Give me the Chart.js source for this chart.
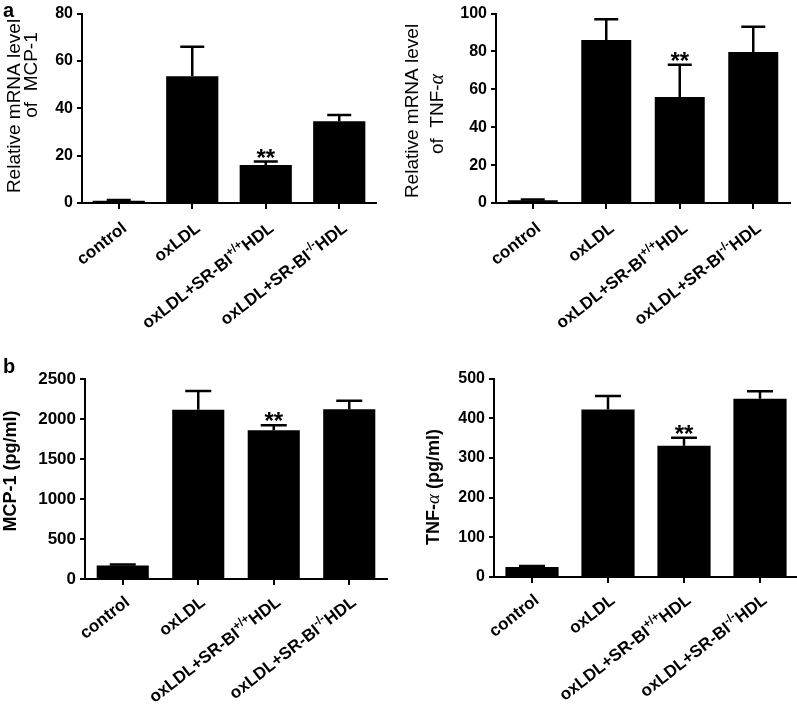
<!DOCTYPE html>
<html><head><meta charset="utf-8">
<script src="https://cdn.jsdelivr.net/npm/chart.js@4"></script>
<style>
html,body{margin:0;padding:0;background:#fff;overflow:hidden;width:797px;height:710px;}
#wrap{position:relative;width:797px;height:710px;overflow:hidden;background:#fff;}
canvas{position:absolute;}
.plabel{position:absolute;font:bold 20px "Liberation Sans",Arial,sans-serif;line-height:20px;color:#000;}
</style></head><body>
<div id="wrap">
<canvas id="c1" width="400" height="365" style="left:0;top:0"></canvas>
<canvas id="c2" width="397" height="365" style="left:400px;top:0"></canvas>
<canvas id="c3" width="400" height="345" style="left:0;top:365px"></canvas>
<canvas id="c4" width="400" height="345" style="left:400px;top:365px"></canvas>
<div class="plabel" style="left:3px;top:0px">a</div>
<div class="plabel" style="left:3px;top:356px">b</div>
</div>
<script>
// ---- data ----
const categories = ['control', 'oxLDL', 'oxLDL+SR-BI^{+/+}HDL', 'oxLDL+SR-BI^{-/-}HDL'];
const significance = ['', '', '**', ''];

const mcp1Mrna = [1, 53.5, 16, 34.5];
const mcp1MrnaErr = [0.3, 12.5, 1.5, 2.7];
const mcp1MrnaTicks = [0, 20, 40, 60, 80];
const mcp1MrnaTitle = ['Relative mRNA level', 'of  MCP-1'];

const tnfMrna = [1.5, 86, 56, 79.7];
const tnfMrnaErr = [0.3, 11, 17, 13.3];
const tnfMrnaTicks = [0, 20, 40, 60, 80, 100];
const tnfMrnaTitle = ['Relative mRNA level', 'of  TNF-α'];

const mcp1Protein = [170, 2118, 1861, 2125];
const mcp1ProteinErr = [10, 235, 62, 105];
const mcp1ProteinTicks = [0, 500, 1000, 1500, 2000, 2500];
const mcp1ProteinTitle = ['MCP-1 (pg/ml)'];

const tnfProtein = [25, 422, 331, 449];
const tnfProteinErr = [3, 34, 20, 19];
const tnfProteinTicks = [0, 100, 200, 300, 400, 500];
const tnfProteinTitle = ['TNF-α (pg/ml)'];

// ---- helpers ----
const FAM = '"Liberation Sans", Arial, Helvetica, sans-serif';
const GREEK = '"Liberation Serif", "DejaVu Serif", serif';

function parseRuns(text) {
  const runs = [];
  const re = /\^\{([^}]*)\}|α|[^\^α]+/g;
  let m;
  while ((m = re.exec(text)) !== null) {
    if (m[1] !== undefined) runs.push({t: m[1], sup: true});
    else if (m[0] === 'α') runs.push({t: 'α', greek: true});
    else runs.push({t: m[0]});
  }
  return runs;
}
function plain(text) { return text.replace(/\^\{([^}]*)\}/g, '$1'); }

function runFont(r, size, weight) {
  if (r.sup) return weight + ' ' + Math.round(size * 0.68) + 'px ' + FAM;
  if (r.greek) return 'italic ' + (size + 1) + 'px ' + GREEK;
  return weight + ' ' + size + 'px ' + FAM;
}
function drawRich(ctx, text, size, weight, align) {
  const runs = parseRuns(text);
  let total = 0;
  runs.forEach(r => { ctx.font = runFont(r, size, weight); r.w = ctx.measureText(r.t).width; total += r.w; });
  let x = align === 'right' ? -total : -total / 2;
  ctx.textAlign = 'left';
  ctx.textBaseline = 'alphabetic';
  runs.forEach(r => {
    ctx.font = runFont(r, size, weight);
    ctx.fillText(r.t, x, r.sup ? -Math.round(size * 0.42) : 0);
    x += r.w;
  });
}

function decor(cfg) {
  return {
    id: 'decor_' + cfg.id,
    afterDatasetsDraw(chart) {
      const ctx = chart.ctx;
      const ys = chart.scales.y, xs = chart.scales.x;
      const meta = chart.getDatasetMeta(0);
      ctx.save();
      ctx.strokeStyle = '#000';
      ctx.fillStyle = '#000';
      ctx.lineWidth = 2.5;
      cfg.values.forEach((v, i) => {
        const px = meta.data[i].x;
        const y0 = ys.getPixelForValue(v);
        const y1 = ys.getPixelForValue(v + cfg.errs[i]);
        ctx.beginPath();
        ctx.moveTo(px, y0); ctx.lineTo(px, y1);
        ctx.moveTo(px - cfg.cap / 2, y1); ctx.lineTo(px + cfg.cap / 2, y1);
        ctx.stroke();
        if (significance[i]) {
          ctx.font = 'bold 24px ' + FAM;
          ctx.textAlign = 'center';
          ctx.textBaseline = 'alphabetic';
          ctx.fillText(significance[i], px, y1 + 4);
        }
      });
      // category labels (rotated)
      const bottom = chart.chartArea.bottom;
      categories.forEach((lab, i) => {
        const px = xs.getPixelForValue(i);
        ctx.save();
        ctx.translate(px + cfg.lx, bottom + cfg.ly);
        ctx.rotate(-cfg.angle * Math.PI / 180);
        drawRich(ctx, lab, 17, 'bold', 'right');
        ctx.restore();
      });
      // axis titles
      cfg.titles.forEach((t, k) => {
        const pos = cfg.titlePos[k];
        ctx.save();
        ctx.translate(pos[0], pos[1]);
        ctx.rotate(-Math.PI / 2);
        drawRich(ctx, t, cfg.titleSize, cfg.titleWeight, 'center');
        ctx.restore();
      });
      ctx.restore();
    }
  };
}

function makeChart(cfg) {
  return new Chart(document.getElementById(cfg.id), {
    type: 'bar',
    data: {
      labels: categories.map(plain),
      datasets: [{data: cfg.values, backgroundColor: '#000', borderWidth: 0,
                  barPercentage: cfg.barPct, categoryPercentage: 1}]
    },
    options: {
      responsive: false, animation: false, devicePixelRatio: 1,
      layout: {autoPadding: false, padding: {left: 0, top: cfg.top, right: cfg.right, bottom: 0}},
      plugins: {legend: {display: false}, tooltip: {enabled: false}},
      scales: {
        x: {
          ticks: {display: false},
          grid: {offset: false, drawOnChartArea: false, drawTicks: true, tickLength: 6, color: '#000', lineWidth: 2},
          border: {display: true, color: '#000', width: 2},
          afterFit: s => { s.height = cfg.xh; }
        },
        y: {
          min: cfg.ticks[0], max: cfg.ticks[cfg.ticks.length - 1],
          ticks: {color: '#000', padding: 4, font: {family: FAM, size: cfg.tickSize, weight: 'bold'},
                  callback: v => String(v)},
          afterBuildTicks: s => { s.ticks = cfg.ticks.map(v => ({value: v})); },
          grid: {drawOnChartArea: false, drawTicks: true, tickLength: 5, color: '#000', lineWidth: 2},
          border: {display: true, color: '#000', width: 2},
          afterFit: s => { s.width = cfg.yw; }
        }
      }
    },
    plugins: [decor(cfg)]
  });
}

makeChart({id: 'c1', values: mcp1Mrna, errs: mcp1MrnaErr, ticks: mcp1MrnaTicks, titles: mcp1MrnaTitle,
  titlePos: [[20, 106], [37, 75]], titleSize: 19, titleWeight: 'normal', tickSize: 16,
  top: 9, right: 24, yw: 82, xh: 162, barPct: 0.71, cap: 24, lx: 9, ly: 27, angle: 38});
makeChart({id: 'c2', values: tnfMrna, errs: tnfMrnaErr, ticks: tnfMrnaTicks, titles: tnfMrnaTitle,
  titlePos: [[18, 111], [43, 114]], titleSize: 19, titleWeight: 'normal', tickSize: 16,
  top: 9, right: 7, yw: 96, xh: 162, barPct: 0.68, cap: 24, lx: 9, ly: 27, angle: 38});
makeChart({id: 'c3', values: mcp1Protein, errs: mcp1ProteinErr, ticks: mcp1ProteinTicks, titles: mcp1ProteinTitle,
  titlePos: [[16, 106]], titleSize: 18, titleWeight: 'bold', tickSize: 17,
  top: 12, right: 13, yw: 85, xh: 131, barPct: 0.69, cap: 26, lx: 8, ly: 25, angle: 38});
makeChart({id: 'c4', values: tnfProtein, errs: tnfProteinErr, ticks: tnfProteinTicks, titles: tnfProteinTitle,
  titlePos: [[39, 122]], titleSize: 18, titleWeight: 'bold', tickSize: 16,
  top: 12, right: 2, yw: 94, xh: 133, barPct: 0.70, cap: 26, lx: 8, ly: 25, angle: 38});
</script>
</body></html>
